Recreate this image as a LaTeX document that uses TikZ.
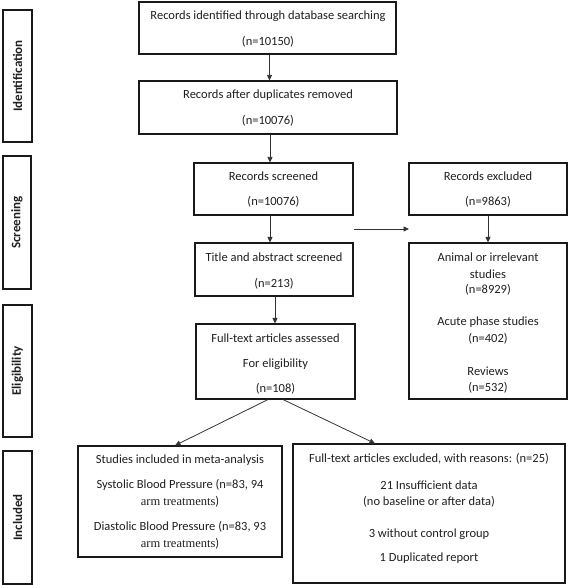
\documentclass[tikz,border=0pt]{standalone}
\usepackage{fontspec}
\setmainfont{Carlito}
\newfontfamily\tnr{Liberation Serif}
\usetikzlibrary{arrows.meta,fit}
\begin{document}
\begin{tikzpicture}[x=1pt,y=-1pt,
  box/.style={draw=black!90, line width=1.1pt, inner sep=0pt},
  side/.style={draw=black!90, line width=1.1pt, inner sep=0pt},
  txt/.style={inner sep=0pt, font=\fontsize{12.5}{15}\selectfont, text=black!88},
  lab/.style={inner sep=0pt, rotate=90, font=\fontsize{13}{15}\selectfont\bfseries, text=black!88},
  arr/.style={draw=black!80, line width=0.8pt, -{Triangle[length=5.5pt,width=5pt]}}]
\useasboundingbox (0,0) rectangle (568,585);
% side labels
\node[side, fit={(3,10) (32,142)}] (sid) {};
\node[lab] (lid) at (sid.center) {Identification};
\node[side, fit={(3,156) (31,289)}] (ssc) {};
\node[lab] (lsc) at (ssc.center) {Screening};
\node[side, fit={(3,305) (32,437)}] (sel) {};
\node[lab] (lel) at (sel.center) {Eligibility};
\node[side, fit={(3,451) (32,584)}] (sin) {};
\node[lab] (lin) at (sin.center) {Included};
% main boxes
\node[box, fit={(139,2) (396,54)}] (b1) {};
\node[txt] (b1a) at (268,16) {Records identified through database searching};
\node[txt] (b1b) at (268,42) {(n=10150)};
\node[box, fit={(139,81) (397,134)}] (b2) {};
\node[txt] (b2a) at (268,95) {Records after duplicates removed};
\node[txt] (b2b) at (268,121) {(n=10076)};
\node[box, fit={(194,163) (353,215)}] (b3) {};
\node[txt] (b3a) at (273.5,176) {Records screened};
\node[txt] (b3b) at (273.5,202) {(n=10076)};
\node[box, fit={(195,243) (353,296)}] (b4) {};
\node[txt] (b4a) at (274,257) {Title and abstract screened};
\node[txt] (b4b) at (274,284) {(n=213)};
\node[box, fit={(196,324) (355,399)}] (b5) {};
\node[txt] (b5a) at (275.5,338) {Full-text articles assessed};
\node[txt] (b5b) at (275.5,364) {For eligibility};
\node[txt] (b5c) at (275.5,389) {(n=108)};
\node[box, fit={(409,163) (567,215)}] (ex) {};
\node[txt] (exa) at (488,176) {Records excluded};
\node[txt] (exb) at (488,202) {(n=9863)};
\node[box, fit={(409,243) (567,399)}] (an) {};
\node[txt] (ana) at (488,257) {Animal or irrelevant};
\node[txt] (anb) at (488,274) {studies};
\node[txt] (anc) at (488,290) {(n=8929)};
\node[txt] (and) at (488,322) {Acute phase studies};
\node[txt] (ane) at (488,339) {(n=402)};
\node[txt] (anf) at (488,371) {Reviews};
\node[txt] (ang) at (488,388) {(n=532)};
\node[box, fit={(78,446) (282,557)}] (inc) {};
\node[txt] (inca) at (180,460) {Studies included in meta-analysis};
\node[txt] (incb) at (180,485) {Systolic Blood Pressure (n=83, 94};
\node[txt] (incc) at (180,502) {{\tnr arm treatments})};
\node[txt] (incd) at (180,527) {Diastolic Blood Pressure (n=83, 93};
\node[txt] (ince) at (180,544) {{\tnr arm treatments})};
\node[box, fit={(293,444) (565,583)}] (fx) {};
\node[txt] (fxa) at (429,459) {Full-text articles excluded, with reasons: (n=25)};
\node[txt] (fxb) at (429,485) {21 Insufficient data};
\node[txt] (fxc) at (429,502) {(no baseline or after data)};
\node[txt] (fxd) at (429,534) {3 without control group};
\node[txt] (fxe) at (429,558) {1 Duplicated report};
% connectors
\coordinate (h1) at (354,229);
\coordinate (h2) at (409,229);
\draw[arr] ([xshift=2pt]b1.south) -- ([xshift=2pt]b1.south |- b2.north);
\draw[arr] ([xshift=2pt]b2.south) -- ([xshift=2pt]b2.south |- b3.north);
\draw[arr] ([xshift=-3.5pt]b3.south) -- ([xshift=-3.5pt]b3.south |- b4.north);
\draw[arr] ([xshift=1pt]b4.south) -- ([xshift=1pt]b4.south |- b5.north);
\draw[arr] (ex.south) -- (an.north);
\draw[arr] (h1) -- (h2);
\draw[arr] ([xshift=-7.5pt]b5.south) -- ([xshift=-5pt]inc.north);
\draw[arr] ([xshift=7.5pt]b5.south) -- ([xshift=-54pt]fx.north);
\end{tikzpicture}
\end{document}
